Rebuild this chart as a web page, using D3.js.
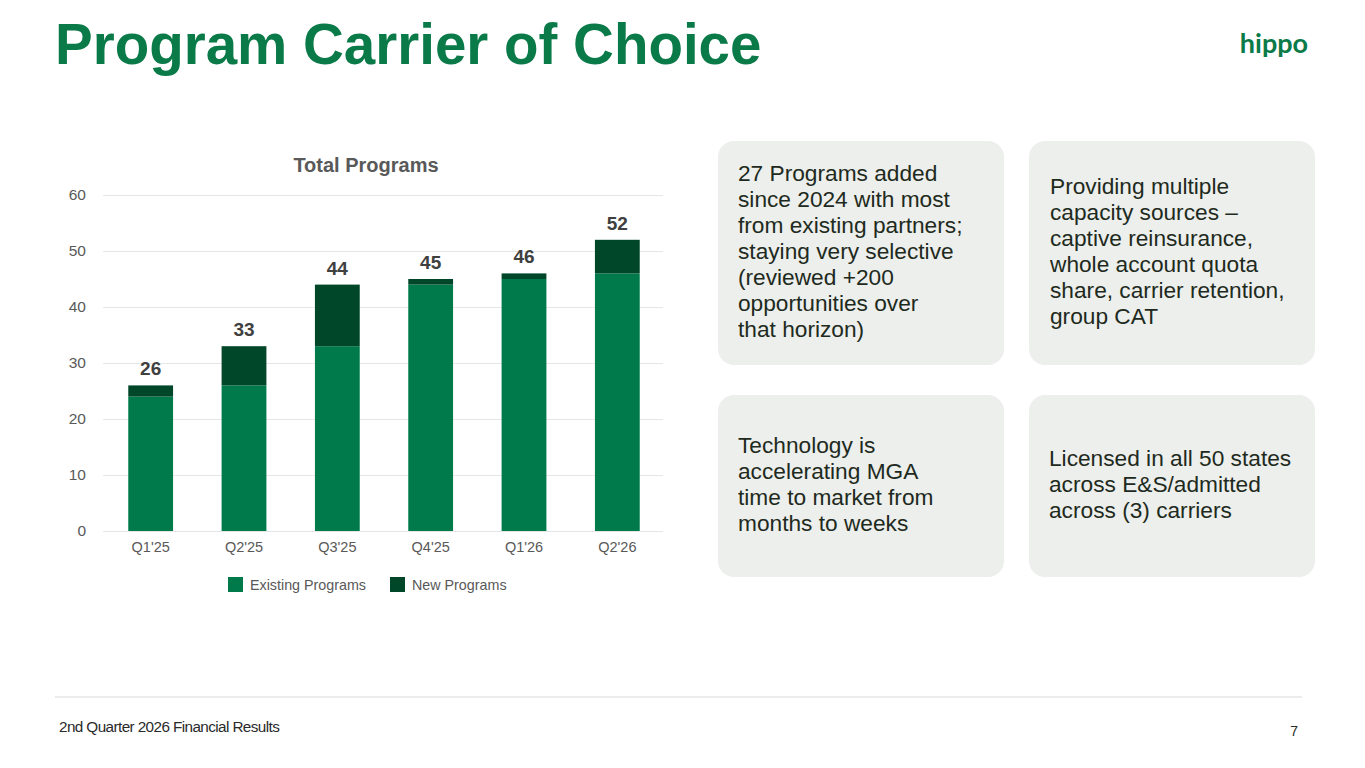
<!DOCTYPE html>
<html><head><meta charset="utf-8">
<script src="https://cdn.jsdelivr.net/npm/d3@7"></script>
<style>
html,body{margin:0;padding:0;background:#fff;}
svg{display:block;font-family:"Liberation Sans",Arial,sans-serif;}
</style></head>
<body>
<svg id="c" width="1365" height="768"></svg>
<script>
const categories = ["Q1'25","Q2'25","Q3'25","Q4'25","Q1'26","Q2'26"];
const existingPrograms = [24, 26, 33, 44, 45, 46];
const newPrograms = [2, 7, 11, 1, 1, 6];
const totals = [26, 33, 44, 45, 46, 52];
const yTicks = [0, 10, 20, 30, 40, 50, 60];
const seriesNames = ["Existing Programs", "New Programs"];
const cardTexts = [
  ["27 Programs added","since 2024 with most","from existing partners;","staying very selective","(reviewed +200","opportunities over","that horizon)"],
  ["Providing multiple","capacity sources \u2013","captive reinsurance,","whole account quota","share, carrier retention,","group CAT"],
  ["Technology is","accelerating MGA","time to market from","months to weeks"],
  ["Licensed in all 50 states","across E&S/admitted","across (3) carriers"]
];

const svg = d3.select("#c");
const green = "#007A4B", dark = "#00472A";

// Title
svg.append("text").attr("x",55).attr("y",64).attr("font-size",56.5).attr("font-weight","bold")
  .attr("fill","#0A7A48").text("Program Carrier of Choice");
// logo
svg.append("text").attr("x",1274).attr("y",53).attr("text-anchor","middle").attr("font-family","Lato, 'Open Sans', sans-serif")
  .attr("font-size",27).attr("font-weight","bold").attr("fill","#0A7A48").text("hippo");

// Chart
const x = d3.scaleBand().domain(categories).range([104,664]).paddingInner(0.52).paddingOuter(0.26);
const y = d3.scaleLinear().domain([0,60]).range([531,195]);

svg.append("text").attr("x",366).attr("y",172).attr("text-anchor","middle").attr("font-size",20)
  .attr("font-weight","bold").attr("fill","#595959").text("Total Programs");

const gy = svg.append("g").attr("transform","translate(103,0)")
  .call(d3.axisLeft(y).tickValues(yTicks).tickSize(-560).tickPadding(17));
gy.select(".domain").remove();
gy.selectAll(".tick line").attr("stroke","#e6e6e6").attr("stroke-width",1);
gy.selectAll(".tick text").attr("font-size",15.5).attr("fill","#595959").attr("font-family","Liberation Sans, Arial, sans-serif");

const gx = svg.append("g").attr("transform","translate(0,531)")
  .call(d3.axisBottom(x).tickSize(0).tickPadding(11));
gx.select(".domain").remove();
gx.selectAll(".tick text").attr("font-size",14.5).attr("fill","#595959").attr("font-family","Liberation Sans, Arial, sans-serif");

const stackData = categories.map((c,i)=>({cat:c, existing:existingPrograms[i], nw:newPrograms[i]}));
const stack = d3.stack().keys(["existing","nw"])(stackData);
const colors = [green, dark];
stack.forEach((layer,li)=>{
  svg.append("g").selectAll("rect").data(layer).join("rect")
    .attr("x",d=>x(d.data.cat)).attr("width",x.bandwidth())
    .attr("y",d=>y(d[1])).attr("height",d=>y(d[0])-y(d[1]))
    .attr("fill",colors[li]);
});
svg.append("g").selectAll("text").data(totals).join("text")
  .attr("x",(d,i)=>x(categories[i])+x.bandwidth()/2).attr("y",d=>y(d)-10)
  .attr("text-anchor","middle").attr("font-size",19).attr("font-weight","bold").attr("fill","#404040")
  .text(d=>d);

// legend
const legX = [228, 390];
seriesNames.forEach((n,i)=>{
  svg.append("rect").attr("x",legX[i]).attr("y",577).attr("width",15).attr("height",15).attr("fill",colors[i]);
  svg.append("text").attr("x",legX[i]+22).attr("y",590).attr("font-size",14.3).attr("fill","#595959").text(n);
});

// Cards
const cards = [
  {x:718,y:141,w:286,h:224,tx:738},
  {x:1029,y:141,w:286,h:224,tx:1050},
  {x:718,y:395,w:286,h:182,tx:738},
  {x:1029,y:395,w:286,h:182,tx:1049}
];
cards.forEach((c,i)=>{
  svg.append("rect").attr("x",c.x).attr("y",c.y).attr("width",c.w).attr("height",c.h)
    .attr("rx",16).attr("fill","#ECEFEC");
  const lines = cardTexts[i];
  const lh = 26;
  const mid = c.y + c.h/2 - 2;
  const start = mid - (lines.length-1)*lh/2;
  lines.forEach((t,j)=>{
    svg.append("text").attr("x",c.tx).attr("y",start+j*lh+8).attr("font-size",22.7)
      .attr("fill","#1E2A20").text(t);
  });
});

// footer
svg.append("line").attr("x1",55).attr("x2",1302).attr("y1",697).attr("y2",697).attr("stroke","#d9d9d9").attr("stroke-width",1.2);
svg.append("text").attr("x",59).attr("y",732).attr("font-size",15.3).attr("letter-spacing",-0.6)
  .attr("fill","#2a2a2a").text("2nd Quarter 2026 Financial Results");
svg.append("text").attr("x",1298).attr("y",736).attr("text-anchor","end").attr("font-size",14)
  .attr("fill","#2a2a2a").text("7");
</script>
</body></html>
